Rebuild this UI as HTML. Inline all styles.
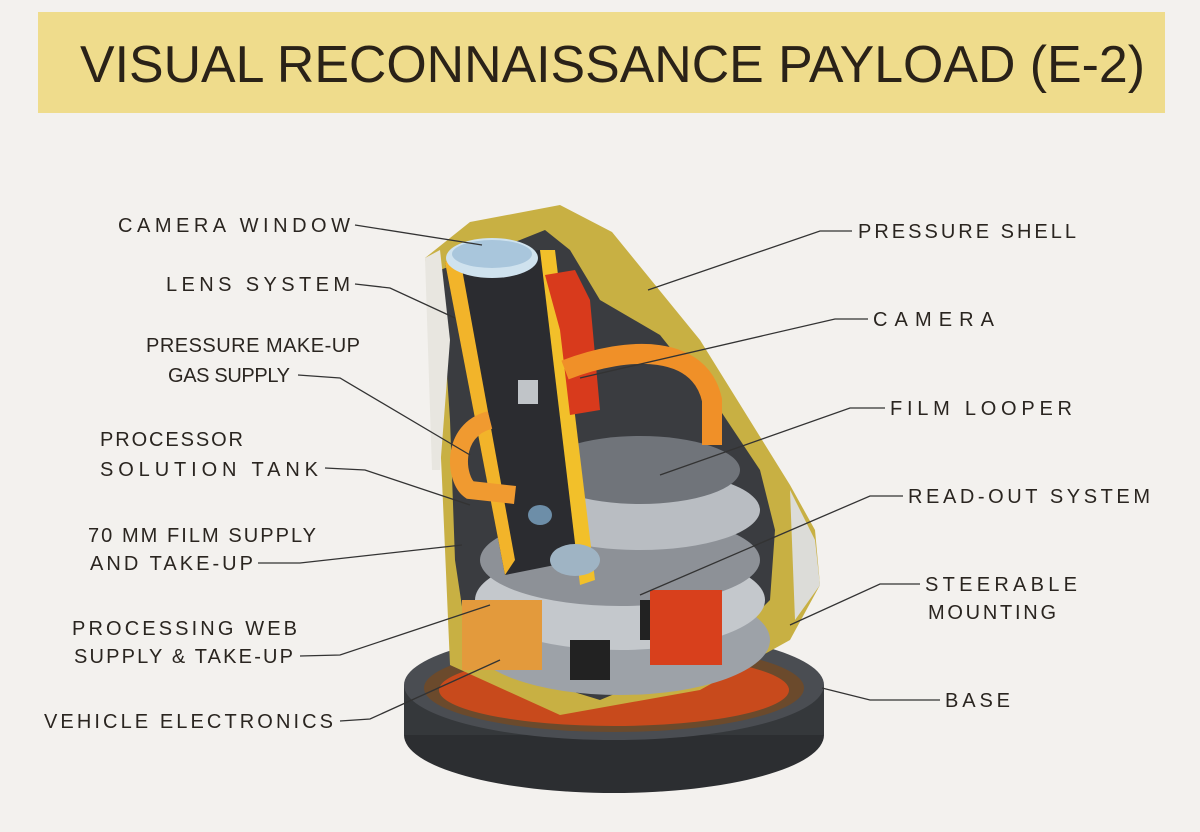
<!DOCTYPE html>
<html><head><meta charset="utf-8"><style>
html,body{margin:0;padding:0}
body{width:1200px;height:832px;background:#f3f1ee;position:relative;overflow:hidden;font-family:"Liberation Sans",sans-serif}
svg{position:absolute;left:0;top:0}
text{font-family:"Liberation Sans",sans-serif;fill:#2a2520}
</style></head><body>
<svg width="1200" height="832" viewBox="0 0 1200 832">
<rect x="38" y="12" width="1127" height="101" fill="#efdc8c"/>
<text x="80" y="82" font-size="52" textLength="1065" lengthAdjust="spacingAndGlyphs" style="fill:#2a2218">VISUAL RECONNAISSANCE PAYLOAD (E-2)</text>
<!-- base -->
<ellipse cx="614" cy="735" rx="210" ry="58" fill="#2c2e31"/>
<rect x="404" y="685" width="420" height="50" fill="#35383b"/>
<ellipse cx="614" cy="685" rx="210" ry="55" fill="#4a4d52"/>
<ellipse cx="614" cy="688" rx="190" ry="44" fill="#6b4a2c"/>
<ellipse cx="614" cy="690" rx="175" ry="36" fill="#c84a1c"/>
<!-- shell -->
<path d="M425,258 L470,222 L560,205 L612,232 L700,340 L790,485 L815,530 L820,585 L790,640 L700,690 L560,715 L450,665 L442,480 L435,330 Z" fill="#c8b043"/>
<path d="M440,270 L520,240 L545,230 L570,250 L600,300 L660,335 L720,410 L760,470 L775,530 L770,600 L720,650 L600,700 L470,660 L455,560 L450,420 Z" fill="#3a3c40"/>
<ellipse cx="620" cy="640" rx="150" ry="55" fill="#9da2a8"/>
<ellipse cx="620" cy="600" rx="145" ry="50" fill="#c4c8cc"/>
<ellipse cx="620" cy="560" rx="140" ry="46" fill="#8d9197"/>
<ellipse cx="640" cy="510" rx="120" ry="40" fill="#b9bdc2"/>
<ellipse cx="640" cy="470" rx="100" ry="34" fill="#70747a"/>
<rect x="570" y="640" width="40" height="40" fill="#222"/>
<rect x="640" y="600" width="40" height="40" fill="#222"/>
<path d="M445,262 L540,250 L580,560 L505,575 Z" fill="#2b2c30"/>
<path d="M445,262 L460,258 L515,560 L505,575 Z" fill="#f2b42a"/>
<path d="M540,250 L555,250 L595,580 L580,585 Z" fill="#f2c02a"/>
<ellipse cx="492" cy="258" rx="46" ry="20" fill="#cfe2ee"/>
<ellipse cx="492" cy="254" rx="40" ry="14" fill="#a9c6dc"/>
<path d="M425,258 L440,250 L450,340 L440,470 L432,470 Z" fill="#e8e6e0"/>
<path d="M545,275 L575,270 L590,300 L600,410 L570,415 L560,330 Z" fill="#d83a1c"/>
<rect x="650" y="590" width="72" height="75" fill="#d8401c"/>
<rect x="462" y="600" width="80" height="70" fill="#e39a3c"/>
<path d="M565,370 C630,345 700,345 712,400 L712,445" stroke="#f09028" stroke-width="20" fill="none"/>
<path d="M490,420 C450,430 455,480 470,490 L515,495" stroke="#f09a30" stroke-width="18" fill="none"/>
<ellipse cx="540" cy="515" rx="12" ry="10" fill="#6d8ea8"/>
<rect x="518" y="380" width="20" height="24" fill="#c0c4c8"/>
<path d="M790,490 L815,540 L820,585 L795,620 Z" fill="#dcdcd8"/>
<ellipse cx="575" cy="560" rx="25" ry="16" fill="#9fb4c4"/>
<g stroke="#333" stroke-width="1.3" fill="none">
<path d="M355,225 L482,245"/>
<path d="M355,284 L390,288 L455,318"/>
<path d="M298,375 L340,378 L470,455"/>
<path d="M325,468 L365,470 L470,505"/>
<path d="M258,563 L300,563 L462,545"/>
<path d="M300,656 L340,655 L490,605"/>
<path d="M340,721 L370,719 L500,660"/>
<path d="M852,231 L820,231 L648,290"/>
<path d="M868,319 L835,319 L580,378"/>
<path d="M885,408 L850,408 L660,475"/>
<path d="M903,496 L870,496 L640,595"/>
<path d="M920,584 L880,584 L790,625"/>
<path d="M940,700 L870,700 L822,688"/>
</g>
<g font-size="20" lengthAdjust="spacingAndGlyphs">
<text x="118" y="232" textLength="232">CAMERA WINDOW</text>
<text x="166" y="291" textLength="184">LENS SYSTEM</text>
<text x="146" y="352" textLength="214">PRESSURE MAKE-UP</text>
<text x="168" y="382" textLength="122">GAS SUPPLY</text>
<text x="100" y="446" textLength="143">PROCESSOR</text>
<text x="100" y="476" textLength="218">SOLUTION  TANK</text>
<text x="88" y="542" textLength="228">70 MM FILM SUPPLY</text>
<text x="90" y="570" textLength="163">AND TAKE-UP</text>
<text x="72" y="635" textLength="225">PROCESSING WEB</text>
<text x="74" y="663" textLength="219">SUPPLY &amp; TAKE-UP</text>
<text x="44" y="728" textLength="289">VEHICLE ELECTRONICS</text>
<text x="858" y="238" textLength="218">PRESSURE SHELL</text>
<text x="873" y="326" textLength="121">CAMERA</text>
<text x="890" y="415" textLength="182">FILM LOOPER</text>
<text x="908" y="503" textLength="242">READ-OUT SYSTEM</text>
<text x="925" y="591" textLength="152">STEERABLE</text>
<text x="928" y="619" textLength="128">MOUNTING</text>
<text x="945" y="707" textLength="65">BASE</text>
</g>
</svg>
</body></html>
